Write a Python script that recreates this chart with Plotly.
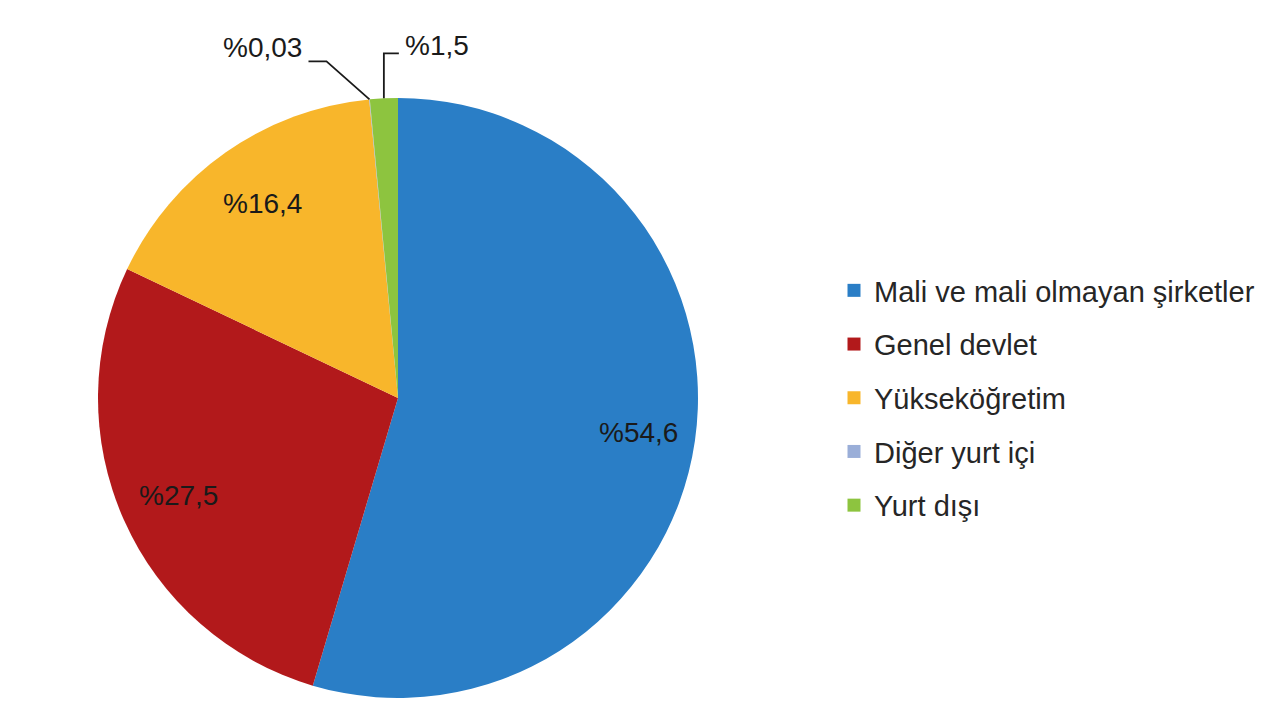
import math
import plotly.graph_objects as go

categories = ["Mali ve mali olmayan şirketler", "Genel devlet", "Yükseköğretim",
              "Diğer yurt içi", "Yurt dışı"]
shares = [54.6, 27.5, 16.4, 0.03, 1.5]
label_texts = ["%54,6", "%27,5", "%16,4", "%0,03", "%1,5"]
colors = ["#2A7EC6", "#B2191B", "#F8B62B", "#9AAED8", "#8DC43F"]

W, H = 1280, 720
OFF = 8  # page body margin in the browser
CX, CY, R = 398 - OFF, 398 - OFF, 300  # pie geometry in pixels (figure coords)
INSIDE_R = [0.81, 0.80, 0.79]
FONT = "Liberation Sans, Arial, sans-serif"
TXT = "#1a1a1a"

# outside label styling: (elbow offset, end offset, text offset, xanchor) in px from slice edge point
outside_style = {
    3: ((-43, -38), (-61, -38), (-65, -52), "right"),
    4: ((0, -45), (15, -45), (19, -53), "left"),
}

fig = go.Figure()
fig.add_trace(go.Pie(
    values=shares, labels=categories, sort=False, direction="clockwise", rotation=0,
    marker=dict(colors=colors, line=dict(width=0)),
    textinfo="none", hoverinfo="label+percent", showlegend=False,
    domain=dict(x=[(CX - R) / W, (CX + R) / W], y=[1 - (CY + R) / H, 1 - (CY - R) / H]),
))

for i, (c, col) in enumerate(zip(categories, colors)):
    fig.add_trace(go.Scatter(
        x=[None], y=[None], mode="markers", name=c, legendgroup=f"g{i}",
        marker=dict(symbol="square", size=13, color=col), hoverinfo="skip",
    ))


def px_to_paper(px, py):
    return px / W, 1 - py / H


total = sum(shares)
cum = 0.0
annotations = []
shapes = []
for i, v in enumerate(shares):
    a0 = cum / total * 2 * math.pi
    cum += v
    a1 = cum / total * 2 * math.pi
    mid = (a0 + a1) / 2
    if i in outside_style:
        ex = CX + R * math.sin(mid)
        ey = CY - R * math.cos(mid)
        (elx, ely), (enx, eny), (tx, ty), anc = outside_style[i]
        p0 = px_to_paper(ex, ey)
        p1 = px_to_paper(ex + elx, ey + ely)
        p2 = px_to_paper(ex + enx, ey + eny)
        shapes.append(dict(type="path", xref="paper", yref="paper",
                           path=f"M {p0[0]},{p0[1]} L {p1[0]},{p1[1]} L {p2[0]},{p2[1]}",
                           line=dict(color="#1a1a1a", width=1.8)))
        tp = px_to_paper(ex + tx, ey + ty)
        annotations.append(dict(x=tp[0], y=tp[1], xref="paper", yref="paper",
                                text=label_texts[i], showarrow=False, xanchor=anc,
                                yanchor="middle", font=dict(size=28, color=TXT, family=FONT)))
    else:
        lx = CX + INSIDE_R[i] * R * math.sin(mid)
        ly = CY - INSIDE_R[i] * R * math.cos(mid)
        tp = px_to_paper(lx, ly)
        annotations.append(dict(x=tp[0], y=tp[1], xref="paper", yref="paper",
                                text=label_texts[i], showarrow=False, xanchor="center",
                                yanchor="middle", font=dict(size=28, color=TXT, family=FONT)))

fig.update_layout(
    width=W, height=H, margin=dict(l=0, r=0, t=0, b=0),
    paper_bgcolor="white", plot_bgcolor="white",
    xaxis=dict(visible=False), yaxis=dict(visible=False),
    showlegend=True,
    legend=dict(x=(834 - OFF) / W, y=1 - (265 - OFF) / H, xanchor="left", yanchor="top",
                traceorder="grouped", tracegroupgap=13,
                font=dict(size=29, color="#262626", family=FONT),
                bgcolor="rgba(0,0,0,0)"),
    annotations=annotations, shapes=shapes,
)

fig.write_html("out.html")
